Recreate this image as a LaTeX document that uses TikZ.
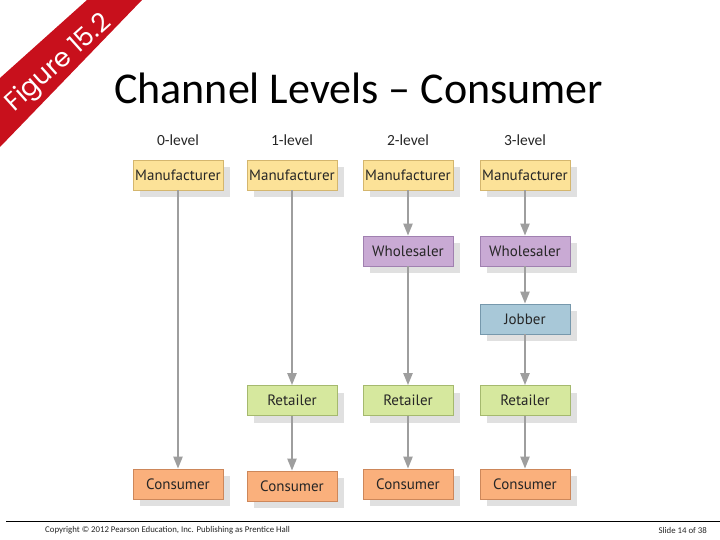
\documentclass[tikz,border=0pt]{standalone}
\usepackage{fontspec}
\setmainfont{Carlito}
\newfontfamily\boxfont{PT Sans}
\newfontfamily\banfont{Poppins}
\usetikzlibrary{arrows.meta,shadows}
\definecolor{banred}{RGB}{200,16,28}
\definecolor{manuF}{RGB}{252,226,152}
\definecolor{manuD}{RGB}{212,182,110}
\definecolor{wholF}{RGB}{201,170,212}
\definecolor{wholD}{RGB}{160,128,176}
\definecolor{jobF}{RGB}{168,200,216}
\definecolor{jobD}{RGB}{118,152,172}
\definecolor{retF}{RGB}{214,232,158}
\definecolor{retD}{RGB}{165,185,110}
\definecolor{conF}{RGB}{250,176,124}
\definecolor{conD}{RGB}{205,135,90}
\definecolor{arrowgray}{RGB}{158,158,158}
\begin{document}
\begin{tikzpicture}[x=1pt,y=-1pt,
  lvl/.style={draw, line width=0.7pt, minimum width=90pt, minimum height=30pt,
    inner sep=0pt, font=\boxfont\fontsize{15}{16}\selectfont, text=black!85,
    drop shadow={shadow xshift=7pt,shadow yshift=-7pt,fill=black!12,opacity=1}},
  manu/.style={lvl, fill=manuF, draw=manuD},
  whol/.style={lvl, fill=wholF, draw=wholD},
  job/.style={lvl, fill=jobF, draw=jobD},
  ret/.style={lvl, fill=retF, draw=retD},
  con/.style={lvl, fill=conF, draw=conD},
  head/.style={anchor=base, font=\fontsize{15.5}{17}\selectfont, text=black!85},
  flow/.style={draw=arrowgray, line width=2.2pt, -{Triangle[width=9pt,length=12pt]}},
  foot/.style={font=\fontsize{8.8}{9}\selectfont, text=black!85}
]
\useasboundingbox (0,0) rectangle (720,540);
\fill[white] (0,0) rectangle (720,540);
% banner
\fill[banred] (0,78) -- (87,0) -- (142,0) -- (0,147) -- cycle;
\node[rotate=42, text=white, inner sep=0pt, font=\banfont\fontsize{26}{26}\selectfont] (fig) at (59,64) {Figure 15.2};
% title
\node[anchor=base west, font=\fontsize{44}{44}\selectfont, inner sep=0pt] (title) at (114,104) {Channel Levels – Consumer};
% headers
\node[head] (h0) at (178,146) {0-level};
\node[head] (h1) at (292,146) {1-level};
\node[head] (h2) at (408,146) {2-level};
\node[head] (h3) at (525,146) {3-level};
% column 0
\node[manu] (m0) at (178,175) {Manufacturer};
\node[con]  (c0) at (178,484) {Consumer};
% column 1
\node[manu] (m1) at (292,175) {Manufacturer};
\node[ret]  (r1) at (292,400.5) {Retailer};
\node[con]  (c1) at (292,486) {Consumer};
% column 2
\node[manu] (m2) at (408,175) {Manufacturer};
\node[whol] (w2) at (408,251) {Wholesaler};
\node[ret]  (r2) at (408,400.5) {Retailer};
\node[con]  (c2) at (408,484) {Consumer};
% column 3
\node[manu] (m3) at (525,175) {Manufacturer};
\node[whol] (w3) at (525,251) {Wholesaler};
\node[job]  (j3) at (525,319) {Jobber};
\node[ret]  (r3) at (525,400.5) {Retailer};
\node[con]  (c3) at (525,484) {Consumer};
% arrows
\draw[flow] (m0) -- (c0);
\draw[flow] (m1) -- (r1);
\draw[flow] (r1) -- (c1);
\draw[flow] (m2) -- (w2);
\draw[flow] (w2) -- (r2);
\draw[flow] (r2) -- (c2);
\draw[flow] (m3) -- (w3);
\draw[flow] (w3) -- (j3);
\draw[flow] (j3) -- (r3);
\draw[flow] (r3) -- (c3);
% footer
\coordinate (fl) at (6,521);
\coordinate (fr) at (720,521);
\draw[line width=0.8pt] (fl) -- (fr);
\node[foot, anchor=west, inner sep=0pt] (copy) at (45,530) {Copyright © 2012 Pearson Education, Inc. Publishing as Prentice Hall};
\node[foot, anchor=east, inner sep=0pt] (slide) at (707,530) {Slide 14 of 38};
\end{tikzpicture}
\end{document}
